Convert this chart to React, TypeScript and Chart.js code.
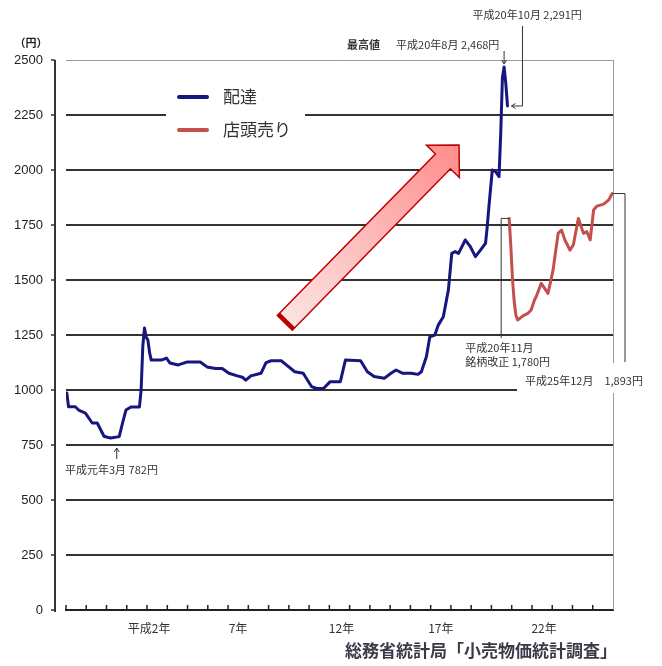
import React, { useEffect, useRef } from "react";
import { Chart, registerables } from "chart.js";

Chart.register(...registerables);

// 配達 (delivery) monthly price, yen
const haitatsuMonths = [
  "1987-01", "1987-02", "1987-06", "1987-08", "1987-12", "1988-04", "1988-07", "1988-11",
  "1989-01", "1989-03", "1989-08", "1989-10", "1989-12", "1990-03", "1990-08", "1990-09",
  "1990-10", "1990-11", "1990-12", "1991-01", "1991-02", "1991-03", "1991-09", "1991-12",
  "1992-02", "1992-07", "1992-12", "1993-08", "1993-12", "1994-05", "1994-09", "1995-01",
  "1995-06", "1995-09", "1995-11", "1996-02", "1996-08", "1996-11", "1997-02", "1997-08",
  "1997-11", "1998-04", "1998-09", "1999-02", "1999-05", "1999-09", "2000-01", "2000-07",
  "2000-10", "2001-07", "2001-11", "2002-03", "2002-09", "2003-01", "2003-04", "2003-08",
  "2004-01", "2004-05", "2004-07", "2004-10", "2004-12", "2005-03", "2005-05", "2005-08",
  "2005-11", "2006-01", "2006-03", "2006-05", "2006-09", "2006-12", "2007-03", "2007-06",
  "2007-09", "2007-10", "2007-11", "2008-01", "2008-03", "2008-05", "2008-06", "2008-07",
  "2008-08", "2008-09", "2008-10",
];
const haitatsuValues = [
  986, 924, 924, 909, 895, 850, 850, 790,
  785, 782, 788, 850, 909, 923, 923, 1000,
  1200, 1282, 1240, 1227, 1170, 1136, 1136, 1145,
  1123, 1114, 1127, 1127, 1105, 1098, 1098, 1076,
  1064, 1058, 1045, 1064, 1076, 1124, 1133, 1133,
  1114, 1083, 1076, 1015, 1007, 1007, 1038, 1038,
  1136, 1133, 1083, 1061, 1053, 1076, 1091, 1076,
  1076, 1071, 1083, 1152, 1242, 1250, 1295, 1333,
  1455, 1621, 1629, 1621, 1682, 1652, 1606, 1636,
  1667, 1742, 1833, 2000, 1992, 1970, 2167, 2420,
  2468, 2394, 2291,
];

// 店頭売り (over the counter) monthly price, yen
const tentoMonths = [
  "2008-11", "2008-12", "2009-01", "2009-02", "2009-03", "2009-04", "2009-07", "2009-10",
  "2009-12", "2010-02", "2010-03", "2010-06", "2010-08", "2010-10", "2011-01", "2011-04",
  "2011-06", "2011-08", "2011-11", "2012-01", "2012-04", "2012-07", "2012-09", "2012-11",
  "2013-01", "2013-03", "2013-07", "2013-10", "2013-12",
];
const tentoValues = [
  1780, 1650, 1500, 1400, 1340, 1318, 1336, 1348,
  1364, 1409, 1424, 1485, 1462, 1439, 1545, 1712,
  1727, 1682, 1636, 1659, 1780, 1712, 1720, 1682,
  1818, 1836, 1845, 1864, 1893,
];

const yTickValues = [0, 250, 500, 750, 1000, 1250, 1500, 1750, 2000, 2250, 2500];
const xLabels = ["平成2年", "7年", "12年", "17年", "22年"];
const xLabelPositions = [1991.1, 1995.5, 2000.6, 2005.5, 2010.6];
const xStartYear = 1987;
const xEndYear = 2014;

// decorative arrow (data coordinates: [year, yen])
const arrowTail = [1997.8, 1305];
const arrowTip = [2006.4, 2114];

const BLUE = "#16167e";
const RED = "#c4504c";
const FONT = "'Noto Sans CJK JP', 'Noto Sans', sans-serif";

const toX = (m: string) => {
  const [yy, mm] = m.split("-").map(Number);
  return yy + (mm - 0.5) / 12;
};

const decorPlugin = {
  id: "decor",
  beforeDatasetsDraw(chart: any) {
    const { ctx, chartArea: a, scales } = chart;
    const x = scales.x;
    const y = scales.y;
    ctx.save();
    // white boxes behind legend & lower-right annotation
    ctx.fillStyle = "#fff";
    ctx.fillRect(a.left + 100, 76, 139, 72);
    ctx.fillRect(a.left + 451, 363, 200, 30);
    // y axis line
    ctx.strokeStyle = "#333";
    ctx.lineWidth = 2;
    ctx.beginPath();
    ctx.moveTo(a.left - 11, a.top);
    ctx.lineTo(a.left - 11, a.bottom + 2);
    ctx.stroke();
    ctx.lineWidth = 1.5;
    yTickValues.forEach((v) => {
      const py = y.getPixelForValue(v);
      ctx.beginPath();
      ctx.moveTo(a.left - 15, py);
      ctx.lineTo(a.left - 11, py);
      ctx.stroke();
    });
    // right border
    ctx.strokeStyle = "#999";
    ctx.lineWidth = 1;
    ctx.beginPath();
    ctx.moveTo(a.right + 0.5, a.top);
    ctx.lineTo(a.right + 0.5, 363);
    ctx.moveTo(a.right + 0.5, 393);
    ctx.lineTo(a.right + 0.5, a.bottom);
    ctx.stroke();
    // inward year ticks
    ctx.strokeStyle = "#222";
    ctx.lineWidth = 1.5;
    for (let yr = xStartYear; yr < xEndYear; yr++) {
      const px = x.getPixelForValue(yr);
      ctx.beginPath();
      ctx.moveTo(px, a.bottom);
      ctx.lineTo(px, a.bottom - 5);
      ctx.stroke();
    }
    ctx.restore();
  },
  afterDatasetsDraw(chart: any) {
    const { ctx, chartArea: a, scales } = chart;
    const x = scales.x;
    const y = scales.y;
    ctx.save();

    // big arrow
    const t = { x: x.getPixelForValue(arrowTail[0]), y: y.getPixelForValue(arrowTail[1]) };
    const h = { x: x.getPixelForValue(arrowTip[0]), y: y.getPixelForValue(arrowTip[1]) };
    const dx = h.x - t.x;
    const dy = h.y - t.y;
    const L = Math.hypot(dx, dy);
    const ux = dx / L, uy = dy / L;
    const nx = -uy, ny = ux;
    const sw = 10.5, hw = 23, hl = 23;
    const bx = h.x - ux * hl, by = h.y - uy * hl;
    const g = ctx.createLinearGradient(t.x, t.y, h.x, h.y);
    g.addColorStop(0, "#fde4e4");
    g.addColorStop(1, "#ff8d8d");
    ctx.beginPath();
    ctx.moveTo(t.x + nx * sw, t.y + ny * sw);
    ctx.lineTo(bx + nx * sw, by + ny * sw);
    ctx.lineTo(bx + nx * hw, by + ny * hw);
    ctx.lineTo(h.x, h.y);
    ctx.lineTo(bx - nx * hw, by - ny * hw);
    ctx.lineTo(bx - nx * sw, by - ny * sw);
    ctx.lineTo(t.x - nx * sw, t.y - ny * sw);
    ctx.closePath();
    ctx.fillStyle = g;
    ctx.fill();
    ctx.strokeStyle = "#c00000";
    ctx.lineWidth = 1.5;
    ctx.lineJoin = "miter";
    ctx.stroke();
    ctx.lineWidth = 4;
    ctx.strokeStyle = "#b80000";
    ctx.beginPath();
    ctx.moveTo(t.x + nx * sw + ux * 2, t.y + ny * sw + uy * 2);
    ctx.lineTo(t.x - nx * sw + ux * 2, t.y - ny * sw + uy * 2);
    ctx.stroke();

    // annotations
    ctx.strokeStyle = "#333";
    ctx.fillStyle = "#333";
    ctx.lineWidth = 1;
    const arrowHead = (px: number, py: number, dir: string) => {
      ctx.beginPath();
      if (dir === "down") {
        ctx.moveTo(px - 2.5, py - 4); ctx.lineTo(px, py); ctx.lineTo(px + 2.5, py - 4);
      } else if (dir === "up") {
        ctx.moveTo(px - 2.5, py + 4); ctx.lineTo(px, py); ctx.lineTo(px + 2.5, py + 4);
      } else {
        ctx.moveTo(px + 4, py - 2.5); ctx.lineTo(px, py); ctx.lineTo(px + 4, py + 2.5);
      }
      ctx.stroke();
    };
    ctx.textBaseline = "middle";
    ctx.textAlign = "left";

    // peak
    const pkx = x.getPixelForValue(toX("2008-08"));
    const pky = y.getPixelForValue(2468);
    ctx.beginPath();
    ctx.moveTo(pkx, 51);
    ctx.lineTo(pkx, pky - 3);
    ctx.stroke();
    arrowHead(pkx, pky - 3, "down");
    ctx.font = `bold 11px ${FONT}`;
    ctx.fillText("最高値", pkx - 157, 45);
    ctx.font = `11px ${FONT}`;
    ctx.fillText("平成20年8月 2,468円", pkx - 108, 45);

    // Oct 2008
    const ox = x.getPixelForValue(toX("2008-10"));
    const oy = y.getPixelForValue(2291);
    ctx.beginPath();
    ctx.moveTo(ox + 15, 26);
    ctx.lineTo(ox + 15, oy);
    ctx.lineTo(ox + 4, oy);
    ctx.stroke();
    arrowHead(ox + 4, oy, "left");
    ctx.fillText("平成20年10月 2,291円", ox - 35, 15);

    // Nov 2008 brand revision
    const nvx = x.getPixelForValue(toX("2008-11"));
    const nvy = y.getPixelForValue(1780);
    ctx.beginPath();
    ctx.moveTo(nvx, nvy);
    ctx.lineTo(nvx - 8, nvy);
    ctx.lineTo(nvx - 8, 338);
    ctx.stroke();
    ctx.fillText("平成20年11月", nvx - 44, 348);
    ctx.fillText("銘柄改正 1,780円", nvx - 44, 362);

    // Dec 2013
    const dy2 = y.getPixelForValue(1893);
    ctx.beginPath();
    ctx.moveTo(a.right, dy2);
    ctx.lineTo(a.right + 12, dy2);
    ctx.lineTo(a.right + 12, 362);
    ctx.stroke();
    ctx.fillText("平成25年12月　1,893円", a.left + 459, 381);

    // Mar 1989 minimum
    const mx = x.getPixelForValue(toX("1989-03")) + 6;
    ctx.beginPath();
    ctx.moveTo(mx, 459);
    ctx.lineTo(mx, 448);
    ctx.stroke();
    arrowHead(mx, 448, "up");
    ctx.fillText("平成元年3月 782円", a.left - 1, 470);

    // legend
    const legendItems = [
      { label: "配達", color: BLUE, y: 97 },
      { label: "店頭売り", color: RED, y: 130 },
    ];
    ctx.font = `17px ${FONT}`;
    legendItems.forEach((it) => {
      ctx.strokeStyle = it.color;
      ctx.lineWidth = 4;
      ctx.lineCap = "round";
      ctx.beginPath();
      ctx.moveTo(a.left + 113, it.y);
      ctx.lineTo(a.left + 141, it.y);
      ctx.stroke();
      ctx.fillStyle = "#333";
      ctx.fillText(it.label, a.left + 157, it.y);
    });

    // unit label
    ctx.font = `bold 11px ${FONT}`;
    ctx.fillStyle = "#222";
    ctx.textAlign = "center";
    ctx.fillText("（円）", 31, 43);

    // source
    ctx.font = `bold 17px ${FONT}`;
    ctx.fillStyle = "#3a3a48";
    ctx.textAlign = "right";
    ctx.fillText("総務省統計局「小売物価統計調査」", a.right + 4, 651);

    ctx.restore();
  },
};

export default function App() {
  const ref = useRef<HTMLCanvasElement | null>(null);
  useEffect(() => {
    if (!ref.current) return;
    const chart = new Chart(ref.current, {
      type: "line",
      data: {
        datasets: [
          {
            label: "配達",
            data: haitatsuMonths.map((m, i) => ({ x: toX(m), y: haitatsuValues[i] })),
            borderColor: BLUE,
            backgroundColor: BLUE,
            borderWidth: 3,
            pointRadius: 0,
            tension: 0,
            borderJoinStyle: "round",
            borderCapStyle: "round",
          },
          {
            label: "店頭売り",
            data: tentoMonths.map((m, i) => ({ x: toX(m), y: tentoValues[i] })),
            borderColor: RED,
            backgroundColor: RED,
            borderWidth: 3,
            pointRadius: 0,
            tension: 0,
            borderJoinStyle: "round",
            borderCapStyle: "round",
          },
        ],
      },
      options: {
        responsive: false,
        animation: false,
        devicePixelRatio: 1,
        layout: { padding: { top: 60, right: 49, bottom: 0, left: 0 } },
        plugins: { legend: { display: false }, tooltip: { enabled: false }, title: { display: false } },
        scales: {
          x: {
            type: "linear",
            min: xStartYear,
            max: xEndYear,
            grid: { display: false, drawTicks: false },
            border: { display: true, color: "#222", width: 2 },
            afterBuildTicks: (s: any) => {
              s.ticks = xLabelPositions.map((v) => ({ value: v }));
            },
            afterFit: (s: any) => {
              s.height = 56;
            },
            ticks: {
              autoSkip: false,
              maxRotation: 0,
              padding: 11,
              color: "#333",
              font: { family: FONT, size: 12 },
              callback: (_v: any, i: number) => xLabels[i],
            },
          },
          y: {
            type: "linear",
            min: 0,
            max: 2500,
            afterBuildTicks: (s: any) => {
              s.ticks = yTickValues.map((v) => ({ value: v }));
            },
            afterFit: (s: any) => {
              s.width = 66;
            },
            border: { display: false },
            grid: {
              drawTicks: false,
              color: (c: any) => (c.tick && c.tick.value === 2500 ? "#9a9a9a" : "#333"),
              lineWidth: (c: any) => (c.tick && c.tick.value === 2500 ? 1 : 2),
            },
            ticks: {
              padding: 23,
              color: "#222",
              font: { family: "'Liberation Sans', Arial, sans-serif", size: 13 },
              callback: (v: any) => String(v),
            },
          },
        },
      },
      plugins: [decorPlugin],
    });
    return () => chart.destroy();
  }, []);
  return (
    <div style={{ position: "absolute", left: 0, top: 0, width: 662, height: 666, background: "#fff" }}>
      <canvas ref={ref} width={662} height={666} />
    </div>
  );
}
